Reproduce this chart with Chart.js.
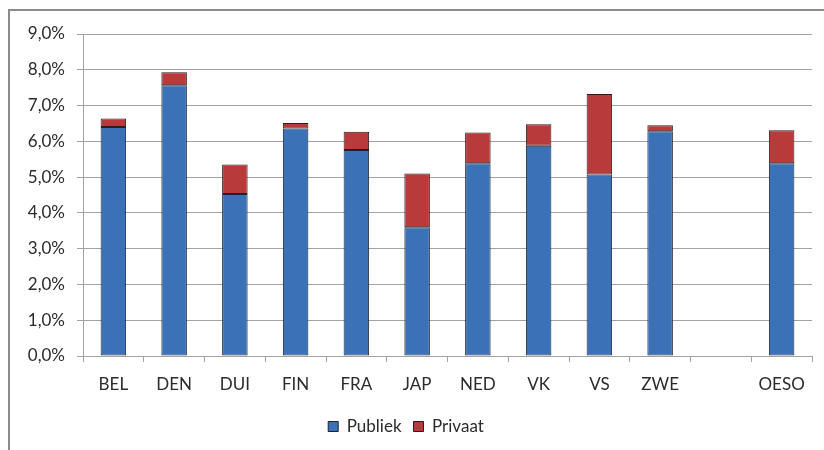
<!DOCTYPE html>
<html>
<head>
<meta charset="utf-8">
<script src="https://cdn.jsdelivr.net/npm/chart.js@4/dist/chart.umd.min.js"></script>
<style>
    body { margin: 0; background: #fff; }
    .wrap { position: relative; width: 824px; height: 450px; overflow: hidden; }
    .frame { position: absolute; left: 8px; top: 9px; width: 900px; height: 500px; border-top: 2px solid #8c8c8c; border-left: 2px solid #8c8c8c; }
    canvas { position: absolute; left: 0; top: 0; }
</style>
</head>
<body>
<div class="wrap">
    <div class="frame"></div>
    <canvas id="chart" width="824" height="450"></canvas>
</div>
<script>
const categories = ["BEL", "DEN", "DUI", "FIN", "FRA", "JAP", "NED", "VK", "VS", "ZWE", "", "OESO"];
const publiek = [6.40, 7.57, 4.53, 6.36, 5.76, 3.60, 5.39, 5.88, 5.07, 6.28, null, 5.39];
const privaat = [0.24, 0.36, 0.82, 0.15, 0.51, 1.50, 0.86, 0.60, 2.25, 0.17, null, 0.92];
const yTicks = [0, 1, 2, 3, 4, 5, 6, 7, 8, 9];

const fontFamily = "Lato, 'Open Sans', sans-serif";
const gridColor = "#a3a3a3";
const textColor = "#2b2b2b";

document.addEventListener("DOMContentLoaded", function () {
    const ctx = document.getElementById("chart").getContext("2d");

    new Chart(ctx, {
        type: "bar",
        data: {
            labels: categories,
            datasets: [
                { label: "Publiek", data: publiek, backgroundColor: "#3b72b7", borderColor: "#1c2431", borderWidth: 1, borderSkipped: false },
                { label: "Privaat", data: privaat, backgroundColor: "#b93a3a", borderColor: "#2a1c1c", borderWidth: 1, borderSkipped: false },
            ],
        },
        options: {
            responsive: false,
            animation: false,
            devicePixelRatio: 1,
            datasets: { bar: { categoryPercentage: 1, barPercentage: 0.42 } },
            layout: { padding: { left: 0, right: 12, top: 34, bottom: 5 } },
            plugins: {
                tooltip: { enabled: false },
                legend: {
                    position: "bottom",
                    labels: {
                        boxWidth: 10,
                        boxHeight: 10,
                        color: textColor,
                        padding: 12,
                        font: { family: fontFamily, size: 17 },
                    },
                },
            },
            scales: {
                x: {
                    stacked: true,
                    grid: { drawOnChartArea: false, drawTicks: true, tickLength: 6, color: gridColor, offset: true },
                    border: { color: gridColor, width: 1 },
                    ticks: { color: textColor, padding: 12, font: { family: fontFamily, size: 17 } },
                    afterFit: (scale) => { scale.height = 50; },
                },
                y: {
                    stacked: true,
                    min: 0,
                    max: 9,
                    afterBuildTicks: (scale) => { scale.ticks = yTicks.map((v) => ({ value: v })); },
                    grid: { color: gridColor, tickLength: 6 },
                    border: { color: gridColor, width: 1 },
                    ticks: {
                        color: textColor,
                        padding: 12,
                        font: { family: fontFamily, size: 17 },
                        callback: (v) => v.toFixed(1).replace(".", ",") + "%",
                    },
                    afterFit: (scale) => { scale.width = 83; },
                },
            },
        },
    });
});
</script>
</body>
</html>
